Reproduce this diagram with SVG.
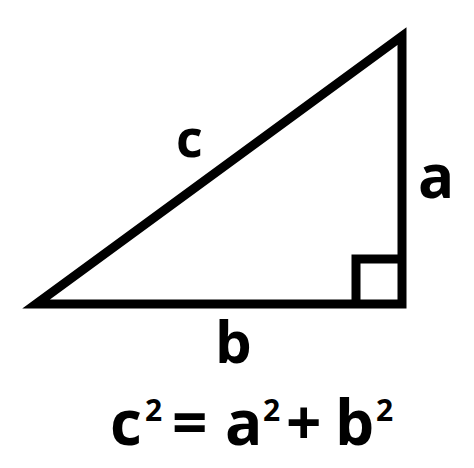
<svg xmlns="http://www.w3.org/2000/svg" width="474" height="468" viewBox="0 0 474 468">
<style>
.edge{fill:none;stroke:#000;stroke-width:9;stroke-linejoin:miter;stroke-miterlimit:20}
.lbl{font-family:"Open Sans","Noto Sans",sans-serif;font-weight:bold;fill:#000}
</style>
<rect width="474" height="468" fill="#fff"/>
<g id="triangle">
<polygon class="edge" points="36,304 402,304 402,36"/>
<polyline class="edge" points="356,304 356,259 402,259"/>
</g>
<g id="labels">
<text class="lbl" x="176" y="157" font-size="52">c</text>
<text class="lbl" x="418" y="198" font-size="60">a</text>
<text class="lbl" x="215" y="363" font-size="58">b</text>
</g>
<g id="equation" class="lbl">
<text class="lbl" x="110" y="445" font-size="62">c</text>
<text class="lbl" x="145" y="421" font-size="30">2</text>
<text class="lbl" x="172" y="445" font-size="62">=</text>
<text class="lbl" x="225" y="445" font-size="62">a</text>
<text class="lbl" x="263" y="421" font-size="30">2</text>
<text class="lbl" x="286" y="445" font-size="62">+</text>
<text class="lbl" x="335" y="445" font-size="62">b</text>
<text class="lbl" x="376" y="421" font-size="30">2</text>
</g>
</svg>
